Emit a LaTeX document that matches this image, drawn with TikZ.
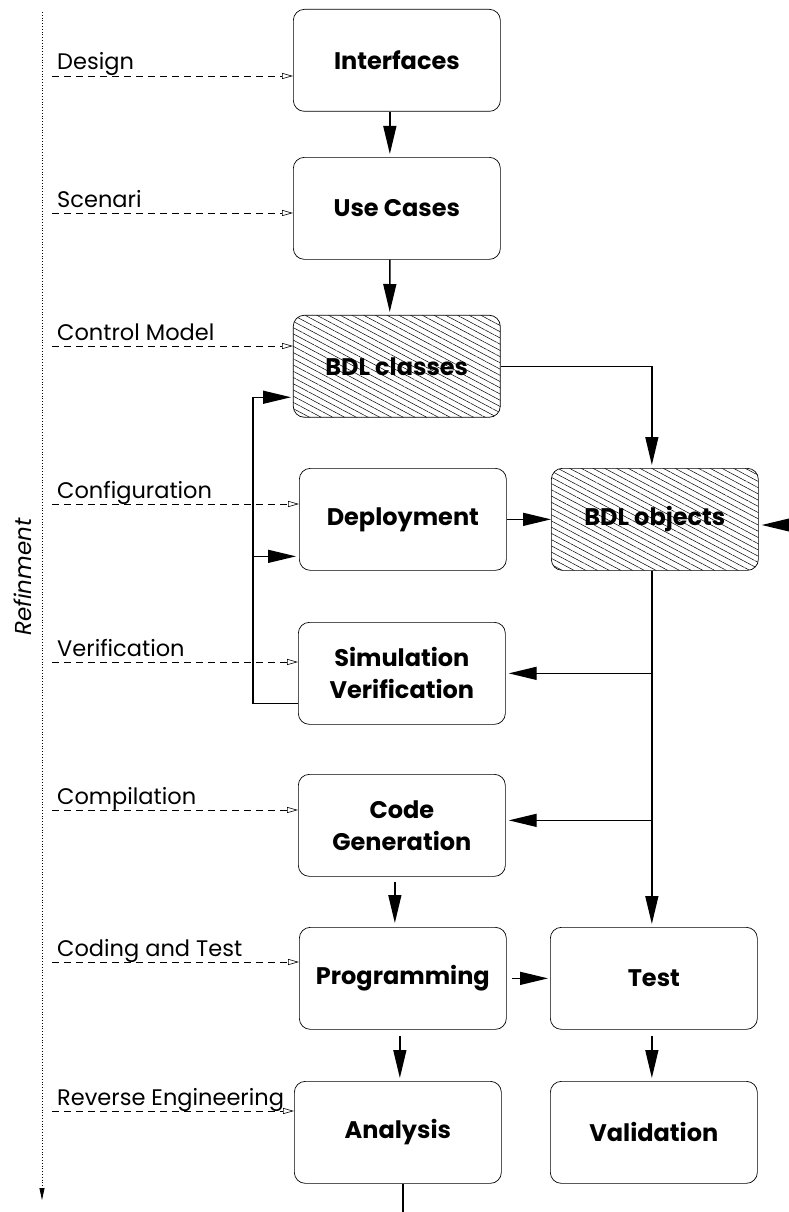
\documentclass[tikz,border=0pt]{standalone}
\usepackage{fontspec}
\setmainfont{Poppins}
\usetikzlibrary{arrows.meta,patterns.meta}

\begin{document}
\begin{tikzpicture}[x=1pt,y=-1pt,
  >={Triangle[length=28pt,width=13pt]},
  box/.style={draw, line width=0.7pt, rounded corners=11pt, anchor=north west,
    minimum width=207pt, minimum height=102pt, inner sep=0pt, align=center,
    font=\fontsize{24}{32}\selectfont\bfseries},
  hatched/.style={box, pattern={Lines[angle=-28,distance=5.5pt,line width=0.5pt]}},
  flow/.style={->, line width=1.4pt},
  phase/.style={dash pattern=on 7pt off 5pt, line width=0.6pt, -{Triangle[open,length=11pt,width=6pt]}},
  phaselabel/.style={anchor=base west, inner sep=0pt, font=\fontsize{22.5}{26}\selectfont}]

  \useasboundingbox (0,0) rectangle (788,1212);

%%%%%%%%%%%%%%%%%%%%%%%%%%%%%%%%%%%%%%%%%%
  % Refinement axis
  \coordinate (axtop) at (42,12);
  \coordinate (axbot) at (42,1200);
  \draw[dotted, line width=0.8pt, -{Triangle[length=12pt,width=5pt]}] (axtop) -- (axbot);
  \node[rotate=90, font=\fontsize{23}{26}\selectfont\itshape] (refine) at (23,577) {Refinment};

%%%%%%%%%%%%%%%%%%%%%%%%%%%%%%%%%%%%%%%%%%
  % Boxes
  \node[box] (iface) at (293,9) {Interfaces};
  \node[box] (usec) at (293,157) {Use Cases};
  \node[hatched] (bdlc) at (293,315) {BDL classes};
  \node[box] (deploy) at (299,468) {Deployment};
  \node[hatched] (bdlo) at (551,468) {BDL objects};
  \node[box] (simv) at (298,622) {Simulation\\Verification};
  \node[box] (codeg) at (298,774) {Code\\Generation};
  \node[box] (prog) at (299,927) {Programming};
  \node[box] (test) at (550,927) {Test};
  \node[box] (anal) at (294,1081) {Analysis};
  \node[box] (valid) at (550,1081) {Validation};

%%%%%%%%%%%%%%%%%%%%%%%%%%%%%%%%%%%%%%%%%%
  % Phases (dashed)
  \foreach \y/\bx/\txt in {76/iface/Design, 213/usec/Scenari, 346/bdlc/Control Model,
      504/deploy/Configuration, 662/simv/Verification, 810/codeg/Compilation,
      962/prog/Coding and Test, 1111/anal/Reverse Engineering} {
    \coordinate (p\bx) at (52,\y);
    \draw[phase] (p\bx) -- (p\bx -| \bx.west);
    \node[phaselabel] (l\bx) at ([xshift=5pt,yshift=6pt]p\bx) {\txt};
  }

%%%%%%%%%%%%%%%%%%%%%%%%%%%%%%%%%%%%%%%%%%
  % Main flow
  \draw[flow] ([xshift=-7pt]iface.south) -- ([xshift=-7pt,yshift=3pt]usec.north);
  \draw[flow] ([xshift=-7pt]usec.south) -- ([xshift=-7pt,yshift=3pt]bdlc.north);
  \draw[flow] (bdlc.east) -| ([xshift=-3pt,yshift=3pt]bdlo.north);
  \draw[flow] (deploy.east) -- (deploy.east -| bdlo.west);
  \coordinate (rin) at (788,525);
  \draw[flow] (rin) -- ([xshift=3pt]rin -| bdlo.east);

  % Objects to simulation, code and test
  \coordinate (spine) at ([xshift=-3pt]bdlo.south);
  \draw[flow] (spine) -- ([yshift=3pt]spine |- test.north);
  \draw[flow] (spine |- simv.east) -- ([xshift=3pt]simv.east);
  \coordinate (cgin) at ([yshift=5pt]codeg.east);
  \draw[flow] (spine |- cgin) -- ([xshift=3pt]cgin);

  % Feedback from simulation
  \coordinate (fb) at ([xshift=-45pt,yshift=-30pt]simv.west);
  \coordinate (deployin) at ([yshift=-37pt]deploy.west);
  \draw[flow] ([yshift=-30pt]simv.west) -- (fb) |- ([xshift=-2pt,yshift=-31pt]bdlc.west);
  \draw[flow] (fb |- deployin) -- ([xshift=-3pt]deployin);

  % Lower part
  \coordinate (cgout) at ([xshift=-7pt,yshift=-5pt]codeg.south);
  \draw[flow] (cgout) -- ([yshift=4pt]cgout |- prog.north);
  \draw[flow] ([xshift=5pt]prog.east) -- ([xshift=-2pt]prog.east -| test.west);
  \coordinate (pgout) at ([xshift=-3pt,yshift=-6pt]prog.south);
  \draw[flow] (pgout) -- ([yshift=3pt]pgout |- anal.north);
  \coordinate (tsout) at ([xshift=-2pt,yshift=-6pt]test.south);
  \draw[flow] (tsout) -- ([yshift=3pt]tsout |- valid.north);
  \draw[line width=1.4pt] ([xshift=5pt]anal.south) -- ++(0,40);

\end{tikzpicture}
\end{document}
